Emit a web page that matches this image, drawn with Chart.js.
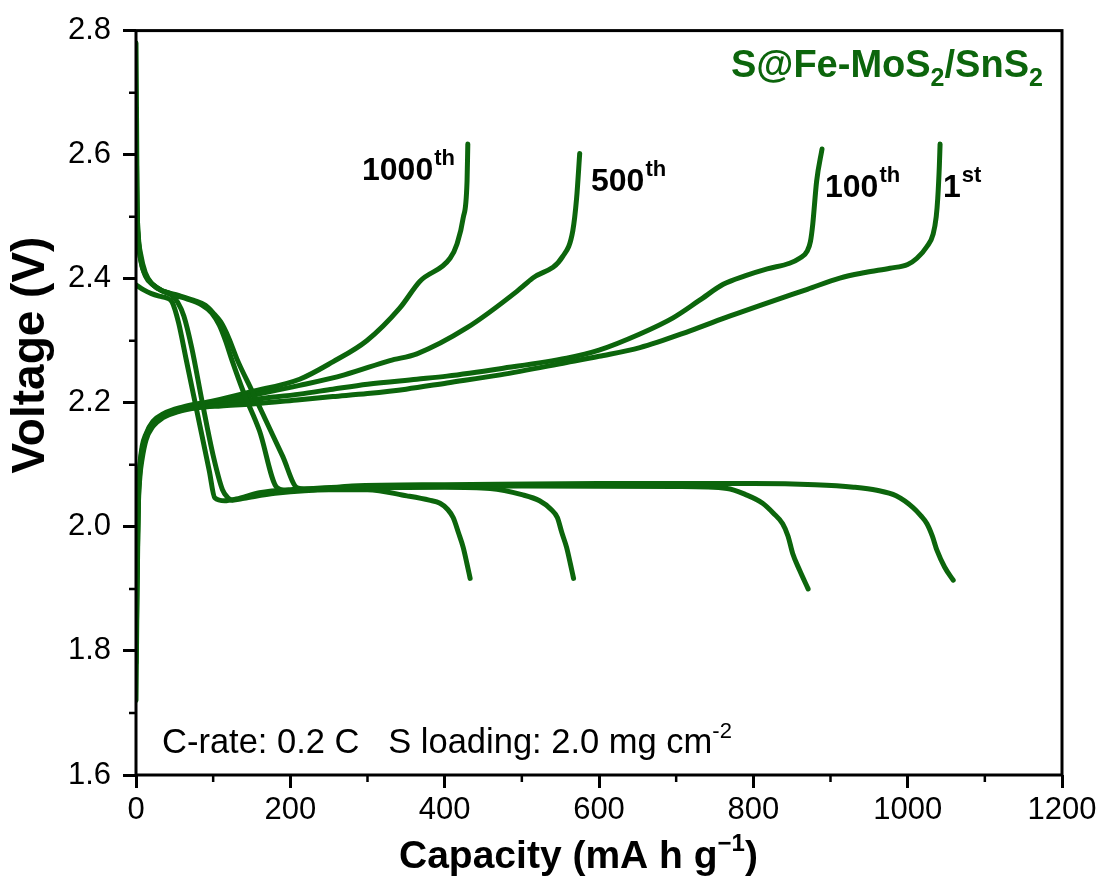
<!DOCTYPE html>
<html>
<head>
<meta charset="utf-8">
<script src="https://cdn.jsdelivr.net/npm/chart.js@4.4.0/dist/chart.umd.min.js"></script>
<style>
  html, body { margin: 0; padding: 0; background: #fff; }
  #wrap { width: 1102px; height: 884px; }
</style>
</head>
<body>
<div id="wrap"><canvas id="c" width="1102" height="884"></canvas></div>
<script>
// Discharge curves (capacity mA h g-1, voltage V)
const dis1Cap = [0, 0.5, 1, 1.5, 3, 6, 12, 22, 35, 55, 75, 90, 100, 110, 120, 131, 150, 170, 190, 209, 230, 280, 400, 600, 800, 880, 930, 960, 985, 1007, 1017, 1025, 1032, 1038, 1048, 1059];
const dis1V   = [2.78, 2.70, 2.60, 2.52, 2.47, 2.44, 2.41, 2.39, 2.38, 2.373, 2.365, 2.357, 2.345, 2.33, 2.305, 2.27, 2.22, 2.167, 2.114, 2.063, 2.060, 2.066, 2.068, 2.07, 2.07, 2.068, 2.064, 2.059, 2.05, 2.031, 2.018, 2.005, 1.985, 1.962, 1.935, 1.914];
const dis100Cap = [0, 1, 2, 4, 8, 15, 28, 45, 65, 85, 98, 108, 116, 124, 140, 160, 183, 200, 230, 300, 500, 700, 766, 790, 812, 826, 838, 845, 851, 860, 871];
const dis100V   = [2.66, 2.55, 2.49, 2.45, 2.42, 2.40, 2.385, 2.375, 2.368, 2.358, 2.345, 2.325, 2.30, 2.27, 2.215, 2.155, 2.063, 2.058, 2.062, 2.065, 2.066, 2.065, 2.062, 2.052, 2.038, 2.022, 2.005, 1.985, 1.957, 1.93, 1.90];
const dis500Cap = [0, 10, 20, 30, 40, 47, 55, 65, 80, 95, 102, 115, 130, 160, 200, 300, 400, 459, 500, 523, 538, 546, 552, 558, 563, 567];
const dis500V   = [2.39, 2.382, 2.376, 2.372, 2.369, 2.362, 2.33, 2.27, 2.18, 2.09, 2.047, 2.042, 2.045, 2.055, 2.060, 2.063, 2.064, 2.062, 2.052, 2.042, 2.028, 2.015, 1.99, 1.967, 1.94, 1.917];
const dis1000Cap = [0, 1, 3, 6, 12, 22, 35, 45, 54, 62, 72, 86, 100, 112, 119, 125, 140, 180, 250, 300, 351, 380, 394, 404, 411, 418, 424, 429, 433];
const dis1000V   = [2.55, 2.50, 2.46, 2.43, 2.405, 2.39, 2.38, 2.375, 2.362, 2.34, 2.29, 2.20, 2.115, 2.06, 2.047, 2.043, 2.046, 2.054, 2.06, 2.06, 2.05, 2.043, 2.038, 2.028, 2.015, 1.99, 1.967, 1.94, 1.917];

// Charge curves
const chg1Cap = [0, 1, 2, 3, 5, 8, 13, 22, 35, 55, 80, 110, 150, 212, 255, 300, 350, 403, 472, 558, 600, 653, 718, 770, 825, 870, 912, 945, 977, 1000, 1012, 1025, 1033, 1037, 1039, 1041, 1042];
const chg1V   = [1.72, 1.85, 1.95, 2.03, 2.08, 2.11, 2.14, 2.162, 2.176, 2.186, 2.192, 2.195, 2.198, 2.205, 2.21, 2.215, 2.222, 2.232, 2.245, 2.265, 2.275, 2.289, 2.316, 2.34, 2.364, 2.383, 2.401, 2.41, 2.417, 2.423, 2.433, 2.452, 2.472, 2.50, 2.53, 2.58, 2.617];
const chg100Cap = [0, 1, 2, 3, 5, 8, 13, 22, 35, 55, 80, 110, 150, 212, 255, 300, 364, 403, 472, 558, 600, 653, 696, 730, 761, 790, 818, 847, 860, 870, 874, 877, 882, 889];
const chg100V   = [1.78, 1.88, 1.97, 2.04, 2.09, 2.12, 2.145, 2.165, 2.178, 2.187, 2.193, 2.197, 2.205, 2.214, 2.222, 2.23, 2.238, 2.243, 2.255, 2.272, 2.285, 2.311, 2.337, 2.365, 2.391, 2.405, 2.416, 2.425, 2.433, 2.445, 2.46, 2.488, 2.557, 2.609];
const chg500Cap = [0, 1, 2, 3, 5, 8, 13, 22, 35, 55, 80, 110, 150, 212, 270, 329, 364, 429, 494, 514, 553, 566, 571, 575];
const chg500V   = [1.85, 1.92, 1.99, 2.05, 2.095, 2.125, 2.148, 2.168, 2.18, 2.19, 2.196, 2.202, 2.212, 2.228, 2.245, 2.268, 2.279, 2.321, 2.380, 2.401, 2.436, 2.477, 2.530, 2.602];
const chg1000Cap = [0, 1, 2, 3, 5, 8, 13, 22, 35, 60, 100, 150, 212, 255, 299, 342, 368, 407, 416, 424, 429, 430];
const chg1000V   = [1.90, 1.96, 2.02, 2.06, 2.10, 2.13, 2.15, 2.17, 2.182, 2.193, 2.203, 2.218, 2.238, 2.266, 2.300, 2.353, 2.396, 2.433, 2.456, 2.498, 2.557, 2.617];

const xTicks = [0, 200, 400, 600, 800, 1000, 1200];
const yTicks = [1.6, 1.8, 2.0, 2.2, 2.4, 2.6, 2.8];

const GREEN = '#0c650c';
const FONT = '"Liberation Sans", Arial, sans-serif';

const curves = [
  [dis1Cap, dis1V], [dis100Cap, dis100V], [dis500Cap, dis500V], [dis1000Cap, dis1000V],
  [chg1Cap, chg1V], [chg100Cap, chg100V], [chg500Cap, chg500V], [chg1000Cap, chg1000V],
];
const datasets = curves.map(([cx, cy]) => ({
  data: cx.map((x, i) => ({ x, y: cy[i] })),
  borderColor: GREEN,
  borderWidth: 5,
  pointRadius: 0,
  fill: false,
  cubicInterpolationMode: 'monotone',
  borderCapStyle: 'round',
  borderJoinStyle: 'round',
}));

// text with sub/superscript pieces: [text, size, dy, dx]
function runs(ctx, x, y, parts, weight, color) {
  ctx.fillStyle = color;
  ctx.textBaseline = 'alphabetic';
  ctx.textAlign = 'left';
  parts.forEach(([t, size, dy, dx = 0]) => {
    ctx.font = `${weight} ${size}px ${FONT}`;
    x += dx;
    ctx.fillText(t, x, y + dy);
    x += ctx.measureText(t).width;
  });
}

const frame = {
  id: 'frame',
  afterDraw(chart) {
    const { ctx, chartArea: a, scales: { x, y } } = chart;
    ctx.save();
    ctx.strokeStyle = '#000';
    ctx.lineWidth = 3;
    ctx.strokeRect(a.left, a.top, a.right - a.left, a.bottom - a.top);
    // minor ticks
    ctx.lineWidth = 2.5;
    ctx.beginPath();
    for (let v = 100; v < 1200; v += 200) {
      const px = x.getPixelForValue(v);
      ctx.moveTo(px, a.bottom); ctx.lineTo(px, a.bottom + 7);
    }
    for (let v = 1.7; v < 2.8; v += 0.2) {
      const py = y.getPixelForValue(v);
      ctx.moveTo(a.left, py); ctx.lineTo(a.left - 7, py);
    }
    ctx.stroke();

    runs(ctx, 362, 180, [['1000', 32, 0], ['th', 22, -15, 1]], 'bold', '#000');
    runs(ctx, 591, 191, [['500', 32, 0], ['th', 22, -15, 1]], 'bold', '#000');
    runs(ctx, 825, 197, [['100', 32, 0], ['th', 22, -15, 1]], 'bold', '#000');
    runs(ctx, 943, 197, [['1', 32, 0], ['st', 22, -15, 1]], 'bold', '#000');
    runs(ctx, 731, 77, [['S@Fe-MoS', 38, 0], ['2', 25, 9], ['/SnS', 38, 0], ['2', 25, 9]], 'bold', GREEN);
    runs(ctx, 162, 753, [['C-rate: 0.2 C   S loading: 2.0 mg cm', 34.5, 0], ['-2', 22, -15]], 'normal', '#000');
    runs(ctx, 399, 868, [['Capacity (mA h g', 39, 0], ['\u22121', 24, -17], [')', 39, 0]], 'bold', '#000');

    ctx.translate(31, 355);
    ctx.rotate(-Math.PI / 2);
    ctx.font = `bold 46px ${FONT}`;
    ctx.textAlign = 'center';
    ctx.textBaseline = 'middle';
    ctx.fillStyle = '#000';
    ctx.fillText('Voltage (V)', 0, 0);
    ctx.restore();
  }
};

new Chart(document.getElementById('c'), {
  type: 'line',
  data: { datasets },
  plugins: [frame],
  options: {
    responsive: false,
    animation: false,
    layout: { padding: { left: 0, right: 40, top: 29, bottom: 0 } },
    plugins: { legend: { display: false }, tooltip: { enabled: false } },
    scales: {
      x: {
        type: 'linear', min: 0, max: 1200,
        afterBuildTicks: (s) => { s.ticks = xTicks.map(v => ({ value: v })); },
        afterFit: (s) => { s.height = 109; },
        ticks: { color: '#000', font: { family: FONT, size: 31 }, padding: 4, maxRotation: 0, callback: v => String(v) },
        grid: { drawOnChartArea: false, drawTicks: true, tickLength: 13, tickWidth: 3, tickColor: '#000' },
        border: { display: false },
      },
      y: {
        type: 'linear', min: 1.6, max: 2.8,
        afterBuildTicks: (s) => { s.ticks = yTicks.map(v => ({ value: v })); },
        afterFit: (s) => { s.width = 136; },
        ticks: { color: '#000', font: { family: FONT, size: 31 }, padding: 12, callback: v => v.toFixed(1) },
        grid: { drawOnChartArea: false, drawTicks: true, tickLength: 13, tickWidth: 3, tickColor: '#000' },
        border: { display: false },
      },
    },
  },
});
</script>
</body>
</html>
